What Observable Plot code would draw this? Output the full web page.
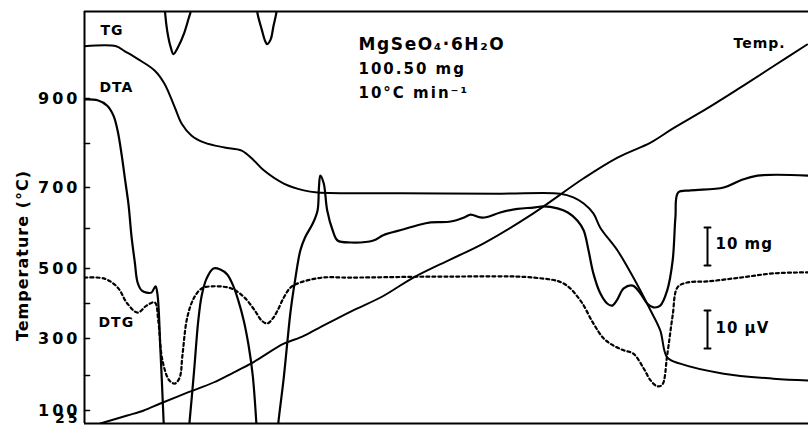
<!DOCTYPE html>
<html><head><meta charset="utf-8">
<script src="https://cdn.jsdelivr.net/npm/d3@7"></script>
<script src="https://cdn.jsdelivr.net/npm/@observablehq/plot@0.6"></script>
<style>
body{margin:0;background:#fff}
svg{display:block}
svg text{letter-spacing:1px}
</style>
</head><body><div id="chart"></div>
<script>
// Temperature axis (°C), non-linear recorder scale
const tempKnots = [25, 100, 200, 300, 400, 500, 600, 700, 800, 900, 1100];
const labeledTicks = [100, 300, 500, 700, 900];
const bottomTick = [25];
const minorTicks = [100, 200, 300, 400, 500, 600, 700, 800, 900];

// [time (min), value on temperature-axis units]
const tgCurve = [[0,1020],[4.6,1020],[5.8,1009],[7.7,991],[10.2,964],[11.6,934],[13.1,880],[14.1,844],[15.5,818],[17.4,802],[20.3,791],[22.8,784],[24.6,761],[26.0,739],[28.9,709],[31.8,693],[33.8,688],[45.8,686],[60.3,685],[69.0,685],[70.9,676],[72.4,661],[73.8,637],[74.8,602],[77.3,545],[79.6,474],[82.1,380],[83.5,323],[84.5,249],[86.4,232],[92.7,205],[99.9,191],[105,186]];

const dtaSeg1 = [[0,898],[1.9,896],[3.3,884],[4.2,862],[4.8,829],[5.4,773],[5.9,716],[6.4,656],[6.8,583],[7.3,515],[7.7,460],[8.3,437],[9.0,431],[9.7,431],[10.3,449],[10.6,423],[11.0,273],[11.5,13],[11.6,-102]];
const dtaWrap1 = [[11.6,1123],[11.7,1095],[12.0,1055],[12.5,1018],[12.9,1002],[13.5,1016],[14.4,1048],[15.1,1084],[15.4,1100],[15.5,1123]];
const dtaSeg2 = [[14.9,-102],[15.2,19],[15.9,214],[16.5,351],[17.0,423],[17.7,471],[18.7,500],[19.7,497],[20.7,483],[21.6,449],[22.3,409],[23.1,351],[23.8,281],[24.4,200],[24.9,42],[25.1,-102]];
const dtaWrap2 = [[24.9,1123],[25.1,1095],[25.7,1059],[26.2,1032],[26.5,1025],[27.0,1036],[27.4,1066],[27.8,1095],[28.0,1123]];
const dtaSeg3 = [[27.8,-102],[28.1,25],[28.9,194],[29.4,287],[29.9,380],[30.6,474],[31.3,545],[32.0,578],[33.1,612],[33.8,644],[34.0,700],[34.2,727],[34.7,709],[35.2,644],[36.0,595],[36.7,570],[38.6,565],[41.9,570],[43.4,584],[46.3,598],[48.3,608],[50.2,615],[53.1,617],[55.2,628],[56.0,634],[57.4,627],[58.4,628],[60.3,639],[62.8,648],[65.1,651],[66.6,654],[68.6,649],[70.1,639],[71.5,619],[72.4,595],[73.1,545],[73.8,486],[74.8,429],[75.8,400],[76.5,394],[77.2,409],[78.2,443],[79.5,451],[80.6,429],[81.6,400],[82.5,389],[83.5,394],[84.5,437],[85.3,520],[85.7,627],[86.1,688],[87.9,693],[92.7,700],[95.1,716],[97.6,727],[105,727]];

const dtgCurve = [[0,474],[2.9,471],[4.8,446],[6.2,400],[7.7,374],[9.0,394],[10.2,403],[10.7,351],[11.3,241],[12.3,186],[13.1,177],[13.8,194],[14.2,254],[14.9,360],[15.9,417],[17.0,443],[18.4,449],[21.3,443],[23.2,417],[24.7,380],[25.7,351],[26.5,343],[27.3,357],[28.0,380],[28.9,417],[29.9,446],[31.3,460],[34.5,474],[38.6,474],[53.1,477],[65.1,474],[69.5,457],[71.9,409],[73.8,343],[75.3,300],[76.7,281],[78.2,268],[79.6,259],[81.1,219],[82.1,186],[83.1,169],[83.8,174],[84.5,254],[85.3,366],[86.0,446],[87.4,460],[90.3,463],[95.1,474],[99.9,486],[105,489]];

const tempCurve = [[2.3,25],[6.2,71],[8.6,100],[11.0,120],[14.9,151],[18.7,180],[21.6,208],[24.4,235],[28.9,286],[31.3,303],[33.6,326],[38.6,377],[43.2,420],[47.7,474],[53.1,523],[57.9,563],[65.1,637],[72.4,721],[77.3,768],[82.1,802],[85.3,833],[90.3,878],[95.1,925],[99.9,974],[104.8,1024]];

const dtaSegments = [dtaSeg1, dtaWrap1, dtaSeg2, dtaWrap2, dtaSeg3];

const sampleInfo = ["MgSeO₄·6H₂O\n100.50 mg\n10°C min⁻¹"];
const scaleLabels = ["10 mg", "10 µV"];

// recorder chart: chart height (divisions) at which each temperature knot is printed
const heightOf = d3.scaleLinear().domain(tempKnots).range([0, 13, 48, 85, 120, 155, 195, 236, 280, 325, 412]);

const X = d => d[0], H = d => heightOf(d[1]);
const dtaRows = dtaSegments.flatMap((s, i) => s.map(([t, v]) => ({t, h: heightOf(v), seg: i})));

const barShape = {draw(ctx, l) {
  ctx.moveTo(0, 0); ctx.lineTo(0, -l);
  ctx.moveTo(-3, 0); ctx.lineTo(3, 0);
  ctx.moveTo(-3, -l); ctx.lineTo(3, -l);
}};
const tickShape = {draw(ctx, l) { ctx.moveTo(0, 0); ctx.lineTo(0, -l); }};
const T = (txt, o) => Plot.text([txt], {text: d => d, frameAnchor: "top-left", textAnchor: "start", lineAnchor: "top", fontWeight: "bold", fill: "black", ...o});
const fmt = h => String(Math.round(heightOf.invert(h)));

const chart = Plot.plot({
  width: 808, height: 430,
  marginLeft: 84, marginRight: 0, marginTop: 11, marginBottom: 7,
  style: {fontFamily: "DejaVu Sans", fontWeight: "bold", fontSize: "15px", background: "white", color: "black"},
  x: {domain: [0, 105], axis: null},
  y: {domain: [0, 412]},
  marks: [
    Plot.ruleX([0], {strokeWidth: 2}),
    Plot.ruleY([0, 412], {strokeWidth: 2}),
    Plot.axisY({ticks: labeledTicks.map(heightOf), tickFormat: fmt, tickSize: 0, tickPadding: 4, label: null, fontSize: 16}),
    Plot.axisY({ticks: bottomTick.map(heightOf), tickFormat: fmt, tickSize: 0, tickPadding: 4, label: null, fontSize: 14, dy: -5}),
    Plot.vector(minorTicks.map(heightOf), {y: d => d, frameAnchor: "left", rotate: 90, length: 5, anchor: "start", shape: tickShape, stroke: "black", strokeWidth: 1.6}),
    Plot.line(tempCurve, {x: X, y: H, curve: "catmull-rom", strokeWidth: 1.9, clip: true}),
    Plot.line(tgCurve, {x: X, y: H, curve: "catmull-rom", strokeWidth: 2, clip: true}),
    Plot.line(dtaRows, {x: "t", y: "h", z: "seg", curve: "catmull-rom", strokeWidth: 2.2, clip: true}),
    Plot.line(dtgCurve, {x: X, y: H, curve: "catmull-rom", strokeWidth: 2.2, strokeDasharray: "3,3", clip: true}),
    Plot.text(["Temperature (°C)"], {text: d => d, frameAnchor: "left", textAnchor: "middle", rotate: -90, dx: -62, dy: 38, fontSize: 16, fontWeight: "bold"}),
    T("TG", {dx: 16, dy: 14, fontSize: 14}),
    T("DTA", {dx: 15, dy: 71, fontSize: 14}),
    T("DTG", {dx: 14, dy: 306, fontSize: 14}),
    T(sampleInfo[0], {dx: 274, dy: 19, fontSize: 15, lineHeight: 1.6}),
    T("Temp.", {dx: 649, dy: 27, fontSize: 14}),
    T(scaleLabels[0], {dx: 631, dy: 227, fontSize: 15}),
    T(scaleLabels[1], {dx: 631, dy: 311, fontSize: 15}),
    Plot.vector([0], {frameAnchor: "top-left", dx: 623, dy: 254, length: 38, rotate: 0, anchor: "start", shape: barShape, stroke: "black", strokeWidth: 2}),
    Plot.vector([0], {frameAnchor: "top-left", dx: 623, dy: 337, length: 38, rotate: 0, anchor: "start", shape: barShape, stroke: "black", strokeWidth: 2})
  ]
});
document.getElementById("chart").appendChild(chart);
const svg = d3.select(chart);
svg.selectAll('g[aria-label="y-axis tick label"] text').style("letter-spacing", "3px");
svg.selectAll('g[aria-label="text"] text').filter(function () { return this.textContent.startsWith("MgSeO"); })
  .style("letter-spacing", "2px")
  .select("tspan").style("letter-spacing", "1.6px").style("font-size", "17px");
</script>
</body></html>
